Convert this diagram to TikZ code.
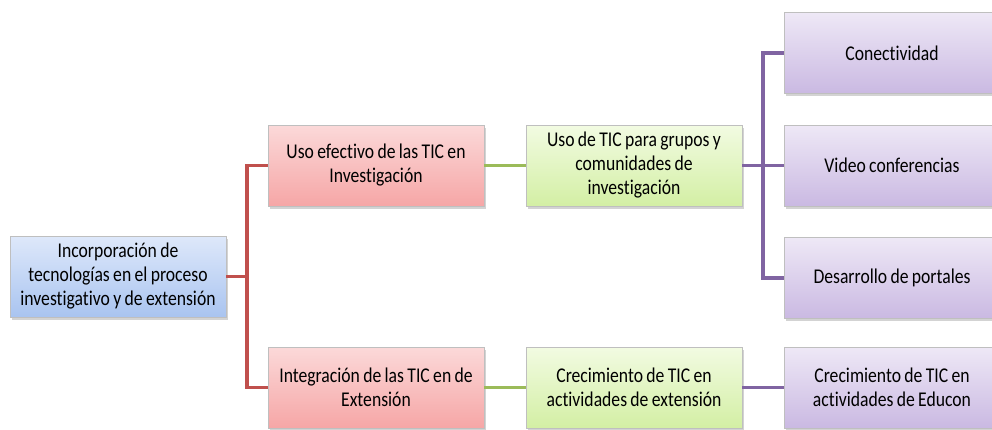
\documentclass[tikz,border=0pt]{standalone}
\usepackage{fontspec}
\setmainfont{Carlito}[FakeStretch=0.84, WordSpace=0.84, Ligatures=NoCommon]
\usetikzlibrary{shadows}
\definecolor{rootTop}{HTML}{DEE8FA}
\definecolor{rootBot}{HTML}{A9C4F0}
\definecolor{redTop}{HTML}{FBD9D9}
\definecolor{redBot}{HTML}{F6A6A6}
\definecolor{greenTop}{HTML}{F2FBE2}
\definecolor{greenBot}{HTML}{D3EFA4}
\definecolor{violetTop}{HTML}{EEE8F6}
\definecolor{violetBot}{HTML}{CAB9E2}
\definecolor{redLine}{HTML}{C0504D}
\definecolor{greenLine}{HTML}{9BBB59}
\definecolor{violetLine}{HTML}{8064A2}
\begin{document}
\begin{tikzpicture}[x=1pt,y=1pt,grow'=right,level distance=258pt,
  edge from parent path={(\tikzparentnode.east) -- +(20.5pt,0) |- (\tikzchildnode.west)},
  level 1/.style={sibling distance=222pt, edge from parent/.style={draw=redLine, line width=3.6pt}},
  level 2/.style={sibling distance=112pt, edge from parent/.style={draw=greenLine, line width=3.6pt}},
  level 3/.style={sibling distance=112.5pt, edge from parent/.style={draw=violetLine, line width=3.6pt}},
  element/.style={rectangle, draw=black!25, thin, minimum width=216pt, minimum height=81pt,
    inner xsep=2pt, align=center, font=\fontsize{21}{24}\selectfont,
    drop shadow={opacity=0.35, shadow xshift=2pt, shadow yshift=-2.5pt}},
  rootbox/.style={element, top color=rootTop, bottom color=rootBot},
  redbox/.style={element, top color=redTop, bottom color=redBot},
  greenbox/.style={element, top color=greenTop, bottom color=greenBot},
  violetbox/.style={element, top color=violetTop, bottom color=violetBot}]
  \useasboundingbox (0,0) rectangle (992,-429);
  \node [rootbox](Root) at (118,-276.5) {Incorporación de\\tecnologías en el proceso\\investigativo y de extensión}
    child {node [redbox]{Uso efectivo de las TIC en\\Investigación}
      child {node [greenbox]{Uso de TIC para grupos y\\comunidades de\\investigación}
        child {node [violetbox]{Conectividad}}
        child {node [violetbox]{Video conferencias}}
        child {node [violetbox]{Desarrollo de portales}}
      }
    }
    child {node [redbox]{Integración de las TIC en de\\Extensión}
      child {node [greenbox]{Crecimiento de TIC en\\actividades de extensión}
        child {node [violetbox]{Crecimiento de TIC en\\actividades de Educon}}
      }
    };
\end{tikzpicture}
\end{document}
